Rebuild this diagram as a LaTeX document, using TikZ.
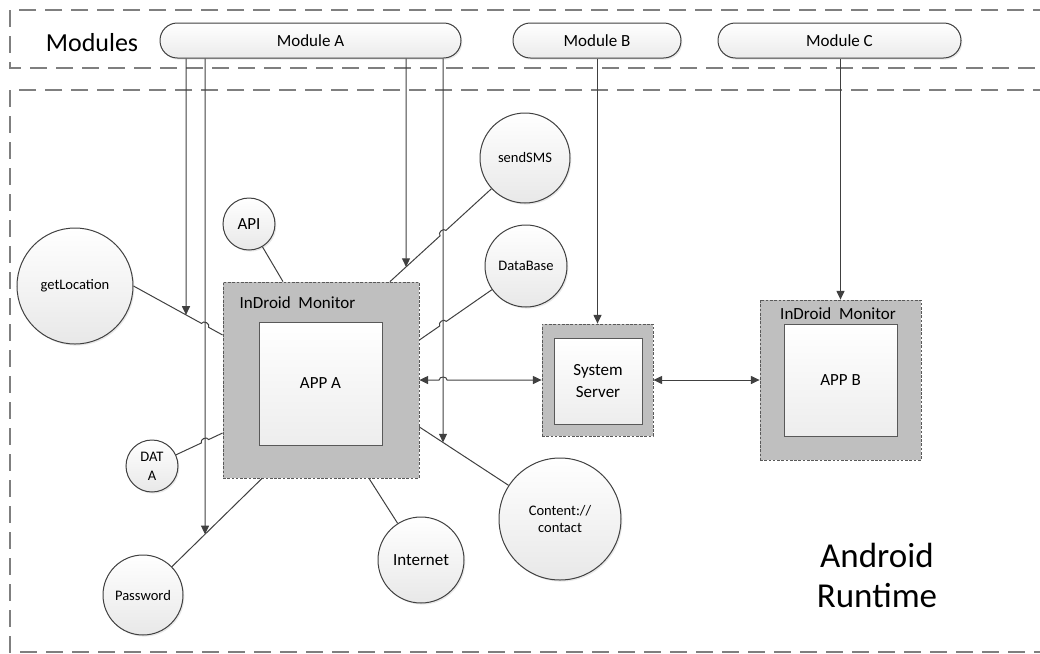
\documentclass[tikz,border=0pt]{standalone}
\usepackage{fontspec}
\setmainfont{Carlito}
\usetikzlibrary{arrows.meta,calc,shadows}
\definecolor{ln}{HTML}{404040}
\definecolor{monfill}{HTML}{BFBFBF}
\definecolor{bdr}{HTML}{595959}
\definecolor{regc}{HTML}{7F7F7F}
\newcommand\fmain{\fontsize{12.75}{16.5}\selectfont}
\newcommand\fsmall{\fontsize{10.9}{13.5}\selectfont}
\begin{document}
\begin{tikzpicture}[x=0.75pt,y=-0.75pt,
  region/.style={draw=regc, line width=1pt, dash pattern=on 12.75pt off 6.75pt},
  pill/.style={draw=ln, line width=0.75pt, rounded corners=13pt, top color=white, bottom color=black!8,
    minimum height=26.25pt, inner sep=0pt, font=\fmain,
    drop shadow={shadow xshift=1pt,shadow yshift=-1.2pt,opacity=0.18}},
  circ/.style={circle, draw=ln, line width=0.75pt, top color=white, bottom color=black!9,
    inner sep=0pt, align=center,
    drop shadow={shadow xshift=1pt,shadow yshift=-1.2pt,opacity=0.18}},
  monitor/.style={draw=bdr, line width=0.6pt, dash pattern=on 2pt off 1.2pt, fill=monfill, inner sep=0pt},
  appbox/.style={draw=bdr, line width=0.75pt, top color=white, bottom color=black!7, inner sep=0pt,
    align=center, font=\fmain},
  conn/.style={draw=ln, line width=0.75pt},
  arr/.style={conn, -{Triangle[length=6.5pt,width=6pt]}},
  barr/.style={conn, {Triangle[length=6.5pt,width=6pt]}-{Triangle[length=6.5pt,width=6pt]}},
  jump/.style={bend left=90, looseness=1.3}
]
\useasboundingbox (0,0) rectangle (1040,654);

% regions
\draw[region] (1050,10) -- (10,10) -- (10,68) -- (1050,68);
\draw[region] (1050,90) -- (10,90) -- (10,652) -- (1050,652);

\node[font=\fontsize{19.5}{23}\selectfont] (modt) at (92,43) {Modules};
\node[font=\fontsize{26.25}{30}\selectfont, align=center] (art) at (877,575) {Android\\Runtime};

% modules
\node[pill, minimum width=225.75pt] (ma) at (310.5,40.5) {Module A};
\node[pill, minimum width=126pt] (mb) at (597,40.5) {Module B};
\node[pill, minimum width=182.25pt] (mc) at (839.5,40.5) {Module C};

% monitors and apps
\node[monitor, minimum width=147pt, minimum height=147pt] (mona) at (321,380) {};
\node[appbox, minimum width=92.25pt, minimum height=92.25pt] (appa) at (320.5,383.5) {APP A};
\node[anchor=west, font=\fmain] (monat) at (235,303) {InDroid\ \ Monitor};

\node[monitor, minimum width=83.25pt, minimum height=84pt] (ssout) at (597.5,380) {};
\node[appbox, minimum width=66pt, minimum height=64.5pt] (ss) at (598,381) {System\\Server};

\node[monitor, minimum width=120.75pt, minimum height=120pt] (monb) at (840.5,380) {};
\node[appbox, minimum width=84.75pt, minimum height=84pt] (appb) at (840.5,380) {APP B};
\node[font=\fmain] (monbt) at (838,314) {InDroid\ \ Monitor};

% resources
\node[circ, minimum size=87pt, font=\fsmall] (getl) at (75,286) {getLocation};
\node[circ, minimum size=39pt, font=\fmain] (api) at (249,224) {API};
\node[circ, minimum size=67.5pt, font=\fsmall] (sms) at (525,158) {sendSMS};
\node[circ, minimum size=61.5pt, font=\fsmall] (db) at (526,266) {DataBase};
\node[circ, minimum size=39pt, font=\fontsize{10.9}{14}\selectfont] (data) at (152,466) {DAT\\A};
\node[circ, minimum size=60pt, font=\fsmall] (pwd) at (143,595) {Password};
\node[circ, minimum size=64.5pt, font=\fmain] (inet) at (421,560) {Internet};
\node[circ, minimum size=91.5pt, font=\fontsize{10.9}{12.75}\selectfont] (cont) at (560,519) {Content://\\contact};

% connection points on monitor A
\coordinate (gq) at (mona.west |- 0,335);
\coordinate (apiq) at (mona.north -| 283,0);
\coordinate (smsq) at (mona.north -| 390,0);
\coordinate (dbq) at (mona.east |- 0,340);
\coordinate (dataq) at (mona.west |- 0,433);
\coordinate (pwdq) at (mona.south -| 262,0);
\coordinate (inetq) at (mona.south -| 369,0);
\coordinate (contq) at (mona.east |- 0,427);

% module A hook lines
\coordinate (a1t) at (ma.south -| 186,0); \coordinate (a1b) at (186,600);
\coordinate (a2t) at (ma.south -| 205,0); \coordinate (a2b) at (205,600);
\coordinate (a3t) at (ma.south -| 406,0); \coordinate (a3b) at (406,600);
\coordinate (a4t) at (ma.south -| 443,0); \coordinate (a4b) at (443,600);

\coordinate (e1) at (intersection of getl.east--gq and a1t--a1b);
\coordinate (e2) at (intersection of pwd--pwdq and a2t--a2b);
\coordinate (e3) at (intersection of sms--smsq and a3t--a3b);
\coordinate (e4) at (intersection of cont--contq and a4t--a4b);

\draw[arr] (a1t) -- (e1);
\draw[arr] (a2t) -- (e2);
\draw[arr] (a3t) -- (e3);
\draw[arr] (a4t) -- (e4);

% jump points
\coordinate (j1) at (intersection of getl.east--gq and a2t--a2b);
\coordinate (j2) at (intersection of data--dataq and a2t--a2b);
\coordinate (j3) at (intersection of sms--smsq and a4t--a4b);
\coordinate (j4) at (intersection of db--dbq and a4t--a4b);
\coordinate (j5) at (intersection of mona.east--ssout.west and a4t--a4b);

% connectors
\draw[conn] (getl.east) -- ($(j1)!3pt!(getl.east)$) to[jump] ($(j1)!3pt!(gq)$) -- (gq);
\draw[conn] (api) -- (apiq);
\draw[conn] (smsq) -- ($(j3)!3pt!(smsq)$) to[jump] ($(j3)!3pt!(sms)$) -- (sms);
\draw[conn] (dbq) -- ($(j4)!3pt!(dbq)$) to[jump] ($(j4)!3pt!(db)$) -- (db);
\draw[conn] (data) -- ($(j2)!3pt!(data)$) to[jump] ($(j2)!3pt!(dataq)$) -- (dataq);
\draw[conn] (pwd) -- (pwdq);
\draw[conn] (inet) -- (inetq);
\draw[conn] (cont) -- (contq);

\draw[barr] (mona.east) -- ($(j5)!3pt!(mona.east)$) to[jump] ($(j5)!3pt!(ssout.west)$) -- (ssout.west);
\draw[barr] (ssout.east) -- (monb.west);
\draw[arr] (mb.south -| ssout.north) -- (ssout.north);
\draw[arr] (mc.south -| monb.north) -- (monb.north);
\end{tikzpicture}
\end{document}
